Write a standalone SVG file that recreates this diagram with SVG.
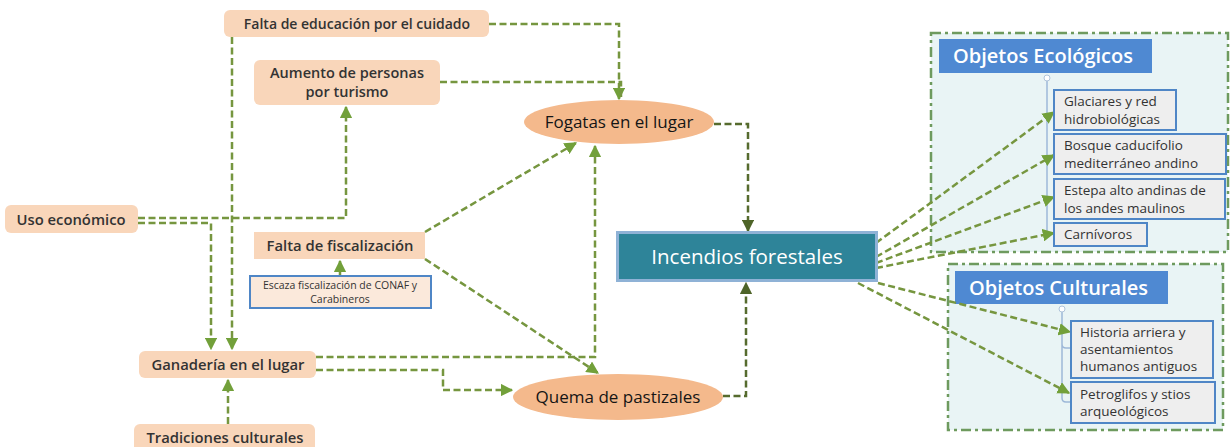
<svg xmlns="http://www.w3.org/2000/svg" width="1232" height="447" viewBox="0 0 1232 447">
<style>
.n{fill:#F9D6BA}
.e{fill:#F4B98C}
.t{font-family:"Open Sans","Liberation Sans",sans-serif;fill:#333;text-anchor:middle;font-weight:600;font-size:14.8px}
.et{font-family:"Open Sans","Liberation Sans",sans-serif;fill:#151515;text-anchor:middle;font-weight:500;font-size:17px}
.c{fill:none;stroke:#76963F;stroke-width:2.5;stroke-dasharray:7 3.5}
.cd{fill:none;stroke:#566B2E;stroke-width:2.5;stroke-dasharray:7 3.5}
.grp{fill:#E9F4F5;stroke:#6E9A5E;stroke-width:2.5;stroke-dasharray:10 4 3 4}
.hd{fill:#4F89D2}
.ht{font-family:"Open Sans","Liberation Sans",sans-serif;fill:#fff;font-size:20px;font-weight:600}
.ch{fill:#EEEEEE;stroke:#4F86C6;stroke-width:2}
.ct{font-family:"Open Sans","Liberation Sans",sans-serif;fill:#333;font-size:13.5px}
.tree{fill:none;stroke:#9DB8D8;stroke-width:1.5}
</style>
<defs>
<marker id="a" viewBox="0 0 10 10" refX="9" refY="5" markerWidth="5" markerHeight="5" orient="auto" markerUnits="strokeWidth"><path d="M0,0L10,5L0,10z" fill="#72A03A"/></marker>
<marker id="ad" viewBox="0 0 10 10" refX="9" refY="5" markerWidth="5" markerHeight="5" orient="auto" markerUnits="strokeWidth"><path d="M0,0L10,5L0,10z" fill="#4E6428"/></marker>
</defs>
<rect width="1232" height="447" fill="#fff"/>

<g id="grp-eco">
<rect class="grp" x="931" y="33" width="297" height="219"/>
<rect class="hd" x="939" y="39" width="213" height="34"/>
<text class="ht" x="953" y="63">Objetos Ecológicos</text>
<path class="tree" d="M1047,80V232"/>
<circle cx="1047" cy="78" r="3" fill="#fff" stroke="#B0C4DA"/>
</g>
<g id="grp-cult">
<rect class="grp" x="948" y="264" width="275" height="166"/>
<rect class="hd" x="955" y="271" width="213" height="33"/>
<text class="ht" x="969" y="295">Objetos Culturales</text>
<path class="tree" d="M1062,312V398q0,4 4,4h5M1062,344q0,4 4,4h5"/>
<circle cx="1062" cy="309" r="3" fill="#fff" stroke="#B0C4DA"/>
</g>

<g id="connectors">
<path class="c" d="M489,24H619V99" marker-end="url(#a)"/>
<path class="c" d="M440,82H621V99"/>
<path class="c" d="M138,218H346V107" marker-end="url(#a)"/>
<path class="c" d="M138,223H211V349" marker-end="url(#a)"/>
<path class="c" d="M232,37V349" marker-end="url(#a)"/>
<path class="c" d="M228,424V380" marker-end="url(#a)"/>
<path class="c" d="M316,357H595V146" marker-end="url(#a)"/>
<path class="c" d="M316,370H443V390H512" marker-end="url(#a)"/>
<path class="c" d="M340,275V261" marker-end="url(#a)"/>
<path class="c" d="M425,232L576,143" marker-end="url(#a)"/>
<path class="c" d="M425,259L598,373" marker-end="url(#a)"/>
<path class="cd" d="M714,124H748V231" marker-end="url(#ad)"/>
<path class="cd" d="M723,396H746V283" marker-end="url(#ad)"/>
<path class="c" d="M876,243L1054,112" marker-end="url(#a)"/>
<path class="c" d="M876,257L1054,155" marker-end="url(#a)"/>
<path class="c" d="M876,263L1054,197" marker-end="url(#a)"/>
<path class="c" d="M876,268L1054,233" marker-end="url(#a)"/>
<path class="c" d="M878,283L1070,332" marker-end="url(#a)"/>
<path class="c" d="M858,283L1069,393" marker-end="url(#a)"/>
</g>

<g id="n-educ"><rect class="n" x="224" y="10" width="265" height="27" rx="6"/><text class="t" x="357" y="29" style="font-size:14px">Falta de educación por el cuidado</text></g>
<g id="n-aumento"><rect class="n" x="254" y="60" width="186" height="45" rx="6"/><text class="t" x="347" y="78" style="font-size:14.5px">Aumento de personas</text><text class="t" x="347" y="97" style="font-size:14.5px">por turismo</text></g>
<g id="n-fogatas"><ellipse class="e" cx="619" cy="122" rx="95" ry="22"/><text class="et" x="619" y="128">Fogatas en el lugar</text></g>
<g id="n-uso"><rect class="n" x="5" y="205" width="133" height="28" rx="6"/><text class="t" x="71" y="225">Uso económico</text></g>
<g id="n-fisc"><rect class="n" x="254" y="232" width="171" height="27"/><text class="t" x="340" y="251">Falta de fiscalización</text></g>
<g id="n-escaza"><rect x="250" y="276" width="181" height="32" fill="#FBE9DB" stroke="#4F86C6" stroke-width="2"/><text class="t" x="340" y="289" style="font-size:10.5px;font-weight:400">Escaza fiscalización de CONAF y</text><text class="t" x="340" y="303" style="font-size:10.5px;font-weight:400">Carabineros</text></g>
<g id="n-ganaderia"><rect class="n" x="139" y="351" width="177" height="27" rx="6"/><text class="t" x="228" y="370">Ganadería en el lugar</text></g>
<g id="n-tradiciones"><rect class="n" x="134" y="424" width="181" height="30" rx="6"/><text class="t" x="225" y="443">Tradiciones culturales</text></g>
<g id="n-quema"><ellipse class="e" cx="618" cy="397" rx="105" ry="23"/><text class="et" x="618" y="403">Quema de pastizales</text></g>
<g id="n-incendios"><rect x="617.5" y="232.5" width="259" height="48" fill="#2E8499" stroke="#8FB2D6" stroke-width="3"/><text x="747" y="264" font-family="'Open Sans','Liberation Sans',sans-serif" font-size="20.5" fill="#fff" text-anchor="middle">Incendios forestales</text></g>

<g id="n-glaciares"><rect class="ch" x="1054" y="90" width="122" height="40"/><text class="ct" x="1064" y="106">Glaciares y red</text><text class="ct" x="1064" y="124">hidrobiológicas</text></g>
<g id="n-bosque"><rect class="ch" x="1054" y="134" width="172" height="40"/><text class="ct" x="1064" y="150">Bosque caducifolio</text><text class="ct" x="1064" y="168">mediterráneo andino</text></g>
<g id="n-estepa"><rect class="ch" x="1054" y="179" width="171" height="40"/><text class="ct" x="1064" y="195">Estepa alto andinas de</text><text class="ct" x="1064" y="213">los andes maulinos</text></g>
<g id="n-carnivoros"><rect class="ch" x="1054" y="223" width="93" height="23"/><text class="ct" x="1064" y="239">Carnívoros</text></g>
<g id="n-historia"><rect class="ch" x="1071" y="321" width="142" height="57"/><text class="ct" x="1080" y="337">Historia arriera y</text><text class="ct" x="1080" y="354">asentamientos</text><text class="ct" x="1080" y="371">humanos antiguos</text></g>
<g id="n-petro"><rect class="ch" x="1071" y="382" width="144" height="41"/><text class="ct" x="1080" y="399"> Petroglifos y stios</text><text class="ct" x="1080" y="416">arqueológicos</text></g>
</svg>
